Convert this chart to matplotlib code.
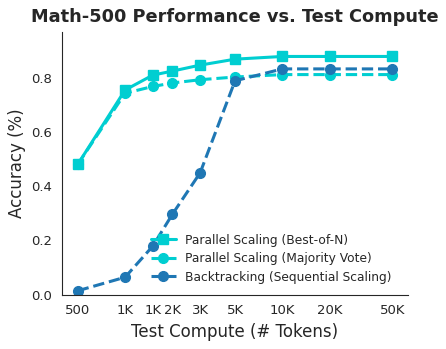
import matplotlib
matplotlib.use("Agg")
import matplotlib.pyplot as plt
import seaborn as sns
from matplotlib.ticker import FixedLocator, FixedFormatter, NullLocator

sns.set_style("white")
plt.rcParams['font.family'] = ['DejaVu Sans']

tokens = [500, 1000, 1500, 2000, 3000, 5000, 10000, 20000, 50000]
tick_labels = ["500", "1K", "1K", "2K", "3K", "5K", "10K", "20K", "50K"]

best_of_n = [0.481, 0.756, 0.811, 0.826, 0.848, 0.870, 0.880, 0.880, 0.880]
majority_vote = [0.481, 0.744, 0.769, 0.782, 0.794, 0.804, 0.813, 0.813, 0.813]
backtracking = [0.014, 0.064, 0.179, 0.297, 0.450, 0.790, 0.834, 0.834, 0.834]

cyan = "#00CED1"
blue = "#1f77b4"

fig = plt.figure(figsize=(4.46, 3.49), dpi=100)
ax = fig.add_axes([0.139, 0.156, 0.776, 0.752])

ax.plot(tokens, best_of_n, color=cyan, linestyle='-', marker='s', markersize=7,
        linewidth=2.2, label="Parallel Scaling (Best-of-N)")
ax.plot(tokens, majority_vote, color=cyan, linestyle='--', marker='o', markersize=7,
        linewidth=2.2, label="Parallel Scaling (Majority Vote)")
ax.plot(tokens, backtracking, color=blue, linestyle='--', marker='o', markersize=7,
        linewidth=2.2, label="Backtracking (Sequential Scaling)")

ax.set_xscale('log')
ax.xaxis.set_major_locator(FixedLocator(tokens))
ax.xaxis.set_major_formatter(FixedFormatter(tick_labels))
ax.xaxis.set_minor_locator(NullLocator())
ax.set_ylim(0, 0.97)
ax.set_yticks([0.0, 0.2, 0.4, 0.6, 0.8])

ax.tick_params(axis='both', labelsize=9.5, colors='.15')
ax.set_xlabel("Test Compute (# Tokens)", fontsize=12, color='.15')
ax.set_ylabel("Accuracy (%)", fontsize=12, color='.15')
ax.set_title("Math-500 Performance vs. Test Compute", fontsize=12.8,
             fontweight='bold', color='.15', pad=7)

ax.legend(loc='lower right', bbox_to_anchor=(0.985, 0.0), frameon=False,
          fontsize=8.8, handlelength=2.0, labelspacing=0.45)
sns.despine(ax=ax)

fig.savefig("out.png", dpi=100)
